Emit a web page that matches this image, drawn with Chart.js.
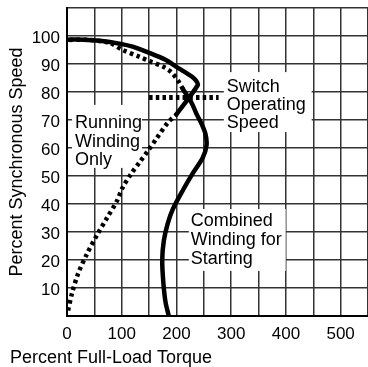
<!DOCTYPE html>
<html><head><meta charset="utf-8">
<script src="https://cdn.jsdelivr.net/npm/chart.js@4/dist/chart.umd.min.js"></script>
<style>html,body{margin:0;padding:0;background:#fff}#wrap{width:368px;height:367px;position:relative}</style>
</head><body><div id="wrap"><canvas id="c"></canvas></div>
<script>
// Running winding only — below switch speed (dotted)
const runLowTorque = [2, 9, 20, 36, 55, 73, 91, 102, 118, 133, 148, 164, 184, 200];
const runLowSpeed  = [2, 8, 15, 22, 29, 35, 41, 46, 51, 55, 59, 63.5, 69, 72];
// Running winding only — above switch speed (solid)
const runHighTorque = [200, 239, 236, 228, 215, 200, 180, 150, 120, 98, 60, 30, 0];
const runHighSpeed  = [72, 82.5, 84, 85.5, 87.2, 89, 91.5, 94, 96.2, 97.2, 98.3, 98.7, 98.7];
// Combined winding for starting — below switch speed (solid)
const combLowTorque = [186, 180, 176, 174, 177, 184, 193, 212, 230, 248, 255, 253, 245, 237, 228, 212];
const combLowSpeed  = [0, 5, 12, 20, 27, 33, 38, 45, 51, 56.5, 61, 65, 69, 72, 76, 81];
// Combined winding for starting — above switch speed (dotted)
const combHighTorque = [212, 203, 191, 176, 151, 133, 102, 78, 40, 0];
const combHighSpeed  = [81, 84, 87, 89, 91, 92.5, 95, 97.5, 98.6, 98.6];
// Switch operating speed (dotted horizontal)
const switchTorque = [150, 277];
const switchSpeed  = [78, 78];

const xTickLabels = [0, 100, 200, 300, 400, 500];
const yTickLabels = [10, 20, 30, 40, 50, 60, 70, 80, 90, 100];
const xAxisTitle = 'Percent Full-Load Torque';
const yAxisTitle = 'Percent Synchronous Speed';
const noteRunning = ['Running', 'Winding', 'Only'];
const noteSwitch = ['Switch', 'Operating', 'Speed'];
const noteCombined = ['Combined', 'Winding for', 'Starting'];

const zip = (xs, ys) => xs.map((v, i) => ({x: v, y: ys[i]}));
const FONT = '"Liberation Sans", Arial, Helvetica, sans-serif';

const solid = (data) => ({data, showLine: true, borderColor: '#000', borderWidth: 4.5, pointRadius: 0, tension: 0.3, borderCapStyle: 'round', borderJoinStyle: 'round', fill: false});
const dotted = (data) => ({data, showLine: true, borderColor: '#000', borderWidth: 4.5, pointRadius: 0, tension: 0.3, borderDash: [3.5, 3.5], borderCapStyle: 'butt', fill: false});

const notePlugin = {
  id: 'notes',
  beforeDatasetsDraw(chart, args, opts) {
    const {ctx, scales: {x, y}} = chart;
    ctx.save();
    opts.items.forEach(it => {
      const x0 = x.getPixelForValue(it.box[0]), x1 = x.getPixelForValue(it.box[1]);
      const y0 = y.getPixelForValue(it.box[2]), y1 = y.getPixelForValue(it.box[3]);
      ctx.fillStyle = '#fff';
      ctx.fillRect(x0, y0, x1 - x0, y1 - y0);
      ctx.fillStyle = '#000';
      ctx.font = '18px ' + FONT;
      ctx.textBaseline = 'alphabetic';
      ctx.textAlign = 'left';
      const tx = x.getPixelForValue(it.at[0]);
      const ty = y.getPixelForValue(it.at[1]);
      it.lines.forEach((l, i) => ctx.fillText(l, tx, ty + i * it.lh));
    });
    ctx.restore();
  }
};

new Chart(document.getElementById('c'), {
  type: 'scatter',
  data: {
    datasets: [
      dotted(zip(runLowTorque, runLowSpeed)),
      solid(zip(runHighTorque, runHighSpeed)),
      solid(zip(combLowTorque, combLowSpeed)),
      dotted(zip(combHighTorque, combHighSpeed)),
      Object.assign(dotted(zip(switchTorque, switchSpeed)), {borderWidth: 5, borderDash: [3.5, 3.2], tension: 0})
    ]
  },
  options: {
    responsive: true,
    maintainAspectRatio: false,
    animation: false,
    layout: {padding: {top: 8, left: 10, right: 0, bottom: 0}},
    plugins: {
      legend: {display: false},
      tooltip: {enabled: false},
      title: {
        display: true, position: 'bottom', align: 'start', text: xAxisTitle,
        color: '#000', font: {family: FONT, size: 18, weight: 'normal', lineHeight: 1.0},
        padding: {top: 0, bottom: 0}
      },
      notes: {
        items: [
          {lines: noteRunning, box: [9, 137, 75.4, 52.9], at: [14.6, 67.1], lh: 18.5},
          {lines: noteSwitch, box: [286.5, 447, 87.1, 65.7], at: [292, 80], lh: 18},
          {lines: noteCombined, box: [222.6, 399.6, 38.2, 16.1], at: [226, 32.1], lh: 19}
        ]
      }
    },
    scales: {
      x: {
        type: 'linear', position: 'bottom', min: 0, max: 550,
        afterFit: s => { s.height = 33; s.paddingLeft = 0; s.paddingRight = 0; },
        ticks: {
          stepSize: 50, autoSkip: false, maxRotation: 0, padding: 8, color: '#000',
          font: {family: FONT, size: 17},
          callback: v => xTickLabels.includes(v) ? String(v) : ''
        },
        grid: {color: '#333', lineWidth: 1.5, drawTicks: false},
        border: {color: '#000', width: 2}
      },
      y: {
        type: 'linear', min: 0, max: 110,
        afterFit: s => { s.width = 57; s.paddingTop = 0; s.paddingBottom = 0; },
        ticks: {
          stepSize: 10, autoSkip: false, padding: 7, color: '#000', labelOffset: 2.5,
          font: {family: FONT, size: 17, lineHeight: 0.95},
          callback: v => yTickLabels.includes(v) ? String(v) : ''
        },
        title: {display: true, text: yAxisTitle, color: '#000', font: {family: FONT, size: 18, lineHeight: 1.0}, padding: {top: -2, bottom: 0}},
        grid: {color: '#333', lineWidth: 1.5, drawTicks: false},
        border: {color: '#000', width: 2}
      }
    }
  },
  plugins: [notePlugin]
});
</script></body></html>
